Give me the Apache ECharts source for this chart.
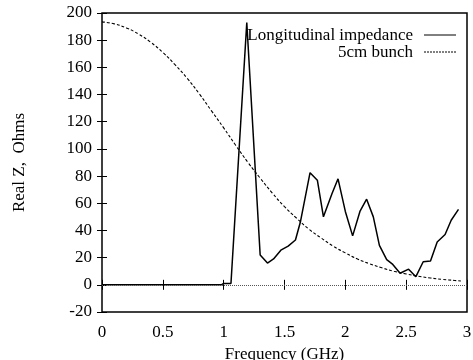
<!DOCTYPE html>
<html>
<head>
<meta charset="utf-8">
<script src="https://cdn.jsdelivr.net/npm/echarts@6/dist/echarts.min.js"></script>
<style>html,body{margin:0;padding:0;background:#fff}#c{width:473px;height:360px}</style>
</head>
<body>
<div id="c"></div>
<script>
var impFreq = [0, 0.98, 1.0, 1.06, 1.19, 1.30, 1.36, 1.41, 1.47, 1.53, 1.59, 1.63, 1.71, 1.77, 1.82, 1.89, 1.94, 2.0, 2.06, 2.12, 2.175, 2.23, 2.28, 2.34, 2.39, 2.45, 2.52, 2.58, 2.64, 2.70, 2.755, 2.82, 2.87, 2.93];
var impZ    = [0, 0, 1, 1, 193, 22, 16, 19, 25.5, 28.5, 33, 46, 82.5, 77, 50, 67, 78, 54, 36, 54, 63, 50, 29, 18.5, 15, 8.5, 11.5, 6, 17, 17.5, 31.5, 37, 47.5, 55.5];
var bunchFreq = [0, 0.1, 0.2, 0.3, 0.4, 0.5, 0.6, 0.7, 0.8, 0.9, 1.0, 1.1, 1.2, 1.3, 1.4, 1.5, 1.6, 1.7, 1.8, 1.9, 2.0, 2.1, 2.2, 2.3, 2.4, 2.5, 2.6, 2.7, 2.8, 2.9, 2.95];
var bunchZ    = [193.5, 192, 189, 184.5, 178.5, 171, 162, 152, 140.5, 128, 115.5, 102.5, 90, 78.5, 67.5, 57.5, 49, 41, 34.5, 28.5, 23.5, 19, 15.5, 12.5, 10, 8, 6.3, 5, 4, 3.2, 2.8];
var seriesNames = ['Longitudinal impedance', '5cm bunch'];

function pairs(xs, ys){ return xs.map(function(x,i){ return [x, ys[i]]; }); }

var font = 'Liberation Serif';
var fs = 17;
var chart = echarts.init(document.getElementById('c'), null, {renderer:'canvas'});
chart.setOption({
  animation: false,
  backgroundColor: '#fff',
  textStyle: {fontFamily: font, color: '#000'},
  grid: {left: 102, right: 6, top: 13, bottom: 48, outerBoundsMode: 'none', containLabel: false,
         show: true, borderColor: '#000', borderWidth: 1.5, backgroundColor: 'transparent'},
  graphic: [
    {type: 'text', right: 60, top: 27, style: {text: seriesNames[0], font: fs + 'px "' + font + '"', fill: '#000', textAlign: 'right'}},
    {type: 'text', right: 60, top: 44, style: {text: seriesNames[1], font: fs + 'px "' + font + '"', fill: '#000', textAlign: 'right'}},
    {type: 'line', shape: {x1: 424, y1: 35, x2: 456, y2: 35}, style: {stroke: '#000', lineWidth: 1}},
    {type: 'line', shape: {x1: 424, y1: 52, x2: 456, y2: 52}, style: {stroke: '#000', lineWidth: 1, lineDash: [2, 1]}}
  ],
  xAxis: [{
    type: 'value', min: 0, max: 3, interval: 0.5,
    name: 'Frequency (GHz)', nameLocation: 'middle', nameGap: 29,
    nameTextStyle: {fontFamily: font, fontSize: fs, color: '#000'},
    axisLine: {show: false}, splitLine: {show: false},
    axisTick: {inside: true, length: 5, lineStyle: {color: '#000'}},
    axisLabel: {fontFamily: font, fontSize: fs, color: '#000', margin: 12}
  }, {
    type: 'value', min: 0, max: 3, interval: 0.5, position: 'top',
    axisLine: {show: false}, splitLine: {show: false},
    axisTick: {inside: true, length: 5, lineStyle: {color: '#000'}},
    axisLabel: {show: false}
  }],
  yAxis: [{
    type: 'value', min: -20, max: 200, interval: 20,
    name: 'Real Z,  Ohms', nameLocation: 'middle', nameGap: 74, nameRotate: 90,
    nameTextStyle: {fontFamily: font, fontSize: fs, color: '#000'},
    axisLine: {show: false}, splitLine: {show: false},
    axisTick: {inside: true, length: 5, lineStyle: {color: '#000'}},
    axisLabel: {fontFamily: font, fontSize: fs, color: '#000', margin: 10}
  }, {
    type: 'value', min: -20, max: 200, interval: 20, position: 'right',
    axisLine: {show: false}, splitLine: {show: false},
    axisTick: {inside: true, length: 5, lineStyle: {color: '#000'}},
    axisLabel: {show: false}
  }],
  series: [{
    name: seriesNames[0], type: 'line', data: pairs(impFreq, impZ),
    showSymbol: false, symbol: 'none',
    lineStyle: {color: '#000', width: 1.5}, itemStyle: {color: '#000'},
    markLine: {
      silent: true, symbol: 'none', label: {show: false},
      lineStyle: {color: '#555', width: 1, type: [1, 1]},
      data: [{yAxis: 0}]
    },
    z: 3
  }, {
    name: seriesNames[1], type: 'line', data: pairs(bunchFreq, bunchZ),
    showSymbol: false, symbol: 'none', smooth: true,
    lineStyle: {color: '#000', width: 1.1, type: [3, 2]}, itemStyle: {color: '#000'},
    z: 2
  }]
});
</script>
</body>
</html>
